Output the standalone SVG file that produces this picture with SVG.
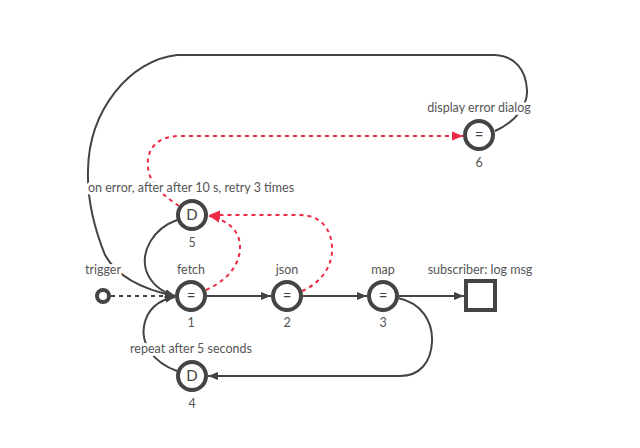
<svg xmlns="http://www.w3.org/2000/svg" width="640" height="448" viewBox="0 0 640 448">
<style>
.n{fill:#fff;stroke:#444;stroke-width:4}
.c{fill:none;stroke:#444;stroke-width:2}
.d{stroke-dasharray:4 4}
.r{fill:none;stroke:#ee2a45;stroke-width:2;stroke-dasharray:4 4}
text{font-family:Lato,"Liberation Sans",sans-serif;font-size:12.5px;fill:#555;text-anchor:middle}
.lb{paint-order:stroke;stroke:#fff;stroke-width:6;stroke-linejoin:round}
.s{font-size:15px;fill:#444}
</style>
<defs>
<marker id="a" viewBox="0 0 10 10" refX="10" refY="5" markerWidth="10" markerHeight="10" markerUnits="userSpaceOnUse" orient="auto"><path d="M0,1 L10,5 L0,9 z" fill="#444"/></marker>
<marker id="ar" viewBox="0 0 10 10" refX="10" refY="5" markerWidth="11" markerHeight="11" markerUnits="userSpaceOnUse" orient="auto"><path d="M0,1 L10,5 L0,9 z" fill="#ee2a45"/></marker>
</defs>
<g id="connectors">
<path class="c" d="M495,131 C515,122 528,106 527,90 C526,70 515,56 495,55 L177,55 C130,60 89,110 88,170 C87,200 95,230 105,255 C118,278 145,290 175,296" marker-end="url(#a)"/>
<path class="c d" d="M111,296 L175,296" marker-end="url(#a)"/>
<path class="c" d="M207,296 L271,296" marker-end="url(#a)"/>
<path class="c" d="M303,296 L367,296" marker-end="url(#a)"/>
<path class="c" d="M399,296 L464,296" marker-end="url(#a)"/>
<path class="c" d="M398,298 C422,303 433,322 432,342 C431,362 420,376 400,376 L208,376" marker-end="url(#a)"/>
<path class="c" d="M177,371 C152,362 141,343 144,326 C147,310 158,300 175,297" marker-end="url(#a)"/>
<path class="c" d="M177,220 C152,229 141,252 146,270 C151,285 162,292 175,296" marker-end="url(#a)"/>
<path class="r" d="M206,290 C226,281 240,266 240,247 C240,231 228,220 209,216" marker-end="url(#ar)"/>
<path class="r" d="M302,291 C321,283 333,266 332,247 C331,228 320,215 300,215 L209,215" marker-end="url(#ar)"/>
<path class="r" d="M179,206 C164,196 150,185 148,168 C146,150 156,136 180,136 L463,136" marker-end="url(#ar)"/>
</g>
<g id="trigger"><circle class="n" cx="103" cy="296" r="6"/><text class="lb" x="103" y="274">trigger</text></g>
<g id="fetch"><circle class="n" cx="191" cy="296" r="14"/><text class="s" x="191" y="301">=</text><text class="lb" x="191" y="274">fetch</text><text x="191" y="327">1</text></g>
<g id="json"><circle class="n" cx="287" cy="296" r="14"/><text class="s" x="287" y="301">=</text><text class="lb" x="287" y="274">json</text><text x="287" y="327">2</text></g>
<g id="map"><circle class="n" cx="383" cy="296" r="14"/><text class="s" x="383" y="301">=</text><text class="lb" x="383" y="274">map</text><text x="383" y="327">3</text></g>
<g id="subscriber"><rect class="n" x="466" y="281" width="29" height="29"/><text class="lb" x="480" y="274">subscriber: log msg</text></g>
<g id="retry"><circle class="n" cx="192" cy="215" r="14"/><text class="s" x="192" y="220">D</text><text x="192" y="247">5</text><text class="lb" x="191" y="192">on error, after after 10 s, retry 3 times</text></g>
<g id="repeat"><circle class="n" cx="192" cy="376" r="14"/><text class="s" x="192" y="381">D</text><text x="192" y="408">4</text><text class="lb" x="191" y="353">repeat after 5 seconds</text></g>
<g id="dialog"><circle class="n" cx="479" cy="135" r="14"/><text class="s" x="479" y="140">=</text><text x="479" y="167">6</text><text class="lb" x="479" y="112">display error dialog</text></g>
</svg>
